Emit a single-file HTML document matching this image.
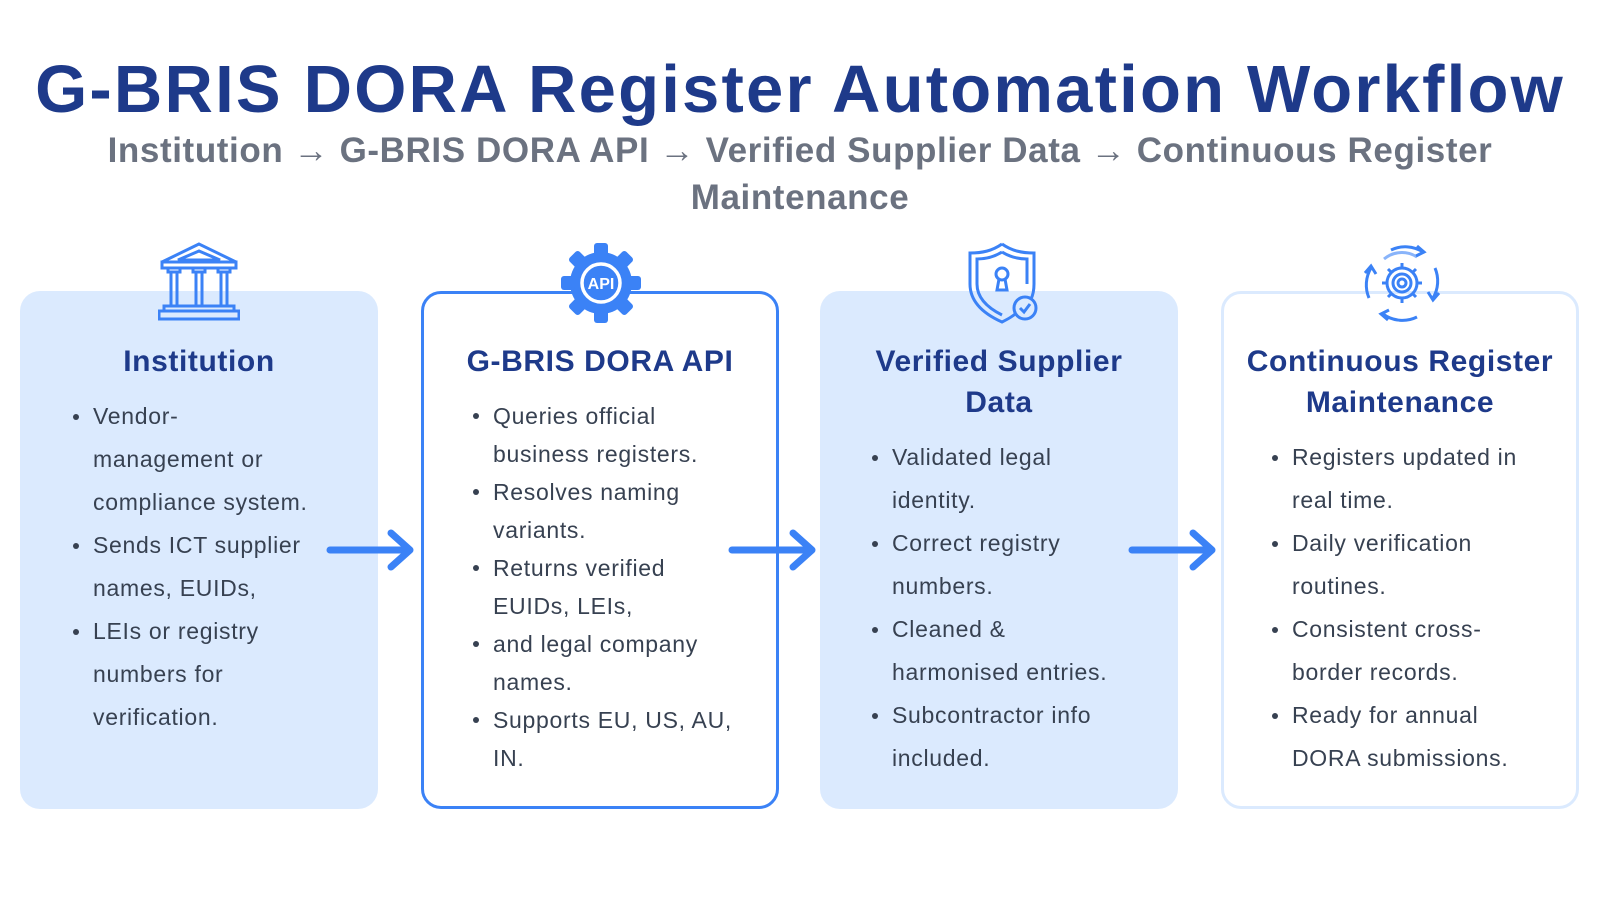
<!DOCTYPE html>
<html><head><meta charset="utf-8"><style>
body{margin:0;width:1600px;height:900px;background:#fff;position:relative;overflow:hidden;font-family:"Liberation Sans",sans-serif;}
.t{position:absolute;left:0;width:1600px;text-align:center;}
h1{position:absolute;left:0;top:50px;width:1600px;margin:0;text-align:center;font-size:67px;font-weight:bold;color:#1e3a8a;letter-spacing:2.2px;line-height:80px;}
.sub{top:127px;font-size:35px;font-weight:bold;color:#6b7280;line-height:47px;letter-spacing:0.6px;}
.box{position:absolute;top:291px;width:358px;height:518px;border-radius:20px;box-sizing:border-box;}
.f{background:#dbeafe;}
.o{background:#fff;border:3px solid #3b82f6;}
.o2{background:#fff;border:3px solid #dbeafe;}
.hd{position:absolute;width:358px;text-align:center;font-size:30px;font-weight:bold;color:#1e3a8a;line-height:41px;letter-spacing:0.6px;}
.ul{position:absolute;font-size:23px;color:#374151;letter-spacing:0.7px;}
.ul div{position:relative;white-space:nowrap;}
.ul .b::before{content:"";position:absolute;left:-20px;top:50%;width:6px;height:6px;margin-top:-3px;border-radius:50%;background:#374151;}
svg{position:absolute;}
</style></head><body>
<h1>G-BRIS DORA Register Automation Workflow</h1>
<div class="t sub">Institution → G-BRIS DORA API → Verified Supplier Data → Continuous Register<br>Maintenance</div>

<div class="box f" style="left:20px"></div>
<div class="box o" style="left:421px"></div>
<div class="box f" style="left:820px"></div>
<div class="box o2" style="left:1221px"></div>

<svg style="left:158px;top:242px" width="82" height="82" viewBox="0 0 82 82" fill="none" stroke="#3b82f6" stroke-width="3">
<path d="M41 2 L4 20 L78 20 Z"/><path d="M41 9 L20 18 L62 18Z"/><rect x="4" y="20" width="74" height="6"/>
<rect x="10" y="26" width="12" height="4"/><rect x="35" y="26" width="12" height="4"/><rect x="60" y="26" width="12" height="4"/>
<path d="M13 30 V64 M19 30 V64 M38 30 V64 M44 30 V64 M63 30 V64 M69 30 V64"/>
<rect x="6" y="64" width="70" height="5"/><rect x="1" y="69" width="80" height="8"/></svg>

<svg style="left:560px;top:242px" width="82" height="82" viewBox="0 0 82 82">
<g fill="#3b82f6"><circle cx="41" cy="41" r="31"/>
<rect x="34" y="1" width="14" height="14" rx="3"/>
<rect x="34" y="67" width="14" height="14" rx="3"/><rect x="1" y="34" width="14" height="14" rx="3"/><rect x="67" y="34" width="14" height="14" rx="3"/>
<g transform="rotate(45 41 41)"><rect x="34" y="1" width="14" height="14" rx="3"/><rect x="34" y="67" width="14" height="14" rx="3"/><rect x="1" y="34" width="14" height="14" rx="3"/><rect x="67" y="34" width="14" height="14" rx="3"/></g></g>
<circle cx="41" cy="41" r="19" fill="none" stroke="#fff" stroke-width="3.5"/>
<text x="41" y="47" text-anchor="middle" font-family="Liberation Sans" font-weight="bold" font-size="16" fill="#fff">API</text></svg>

<svg style="left:962px;top:242px" width="82" height="82" viewBox="0 0 82 82" fill="none" stroke="#3b82f6" stroke-width="3">
<path d="M40 2 C30 9 20 11 8 11 V42 C8 60 22 72 40 80 C46 77 50 75 53 72"/>
<path d="M40 2 C50 9 60 11 72 11 V42 C72 48 71 53 69 57"/>
<path d="M40 10 C32 15 24 17 15 17 V42 C15 56 26 66 40 73"/>
<path d="M40 10 C48 15 56 17 65 17 V42"/>
<circle cx="40" cy="32" r="6"/><path d="M37 37 L35 48 H45 L43 37"/>
<circle cx="63" cy="66" r="11" fill="#dbeafe"/><path d="M58 66 L62 70 L68 62"/></svg>

<svg style="left:1361px;top:242px" width="82" height="82" viewBox="0 0 82 82" fill="none" stroke="#3b82f6" stroke-width="3">
<path d="M30 8 A33 33 0 0 1 62 10"/><path d="M56 4 L63 10 L55 14"/>
<path d="M74 26 A33 33 0 0 1 72 56"/><path d="M78 51 L72 58 L67 50"/>
<path d="M56 75 A33 33 0 0 1 22 72"/><path d="M27 78 L20 72 L28 68"/>
<path d="M8 56 A33 33 0 0 1 10 26"/><path d="M4 31 L10 24 L15 32"/>
<path d="M23 17 A28 28 0 0 1 56 15" opacity=".6"/>
<g transform="translate(41 41)"><circle r="15"/><circle r="9"/><circle r="4"/>
<path d="M0 -15 V-20 M0 15 V20 M-15 0 H-20 M15 0 H20 M-11 -11 L-14 -14 M11 11 L14 14 M-11 11 L-14 14 M11 -11 L14 -14"/></g></svg>

<div class="hd" style="left:20px;top:341px">Institution</div>
<div class="hd" style="left:421px;top:341px">G-BRIS DORA API</div>
<div class="hd" style="left:820px;top:341px">Verified Supplier<br>Data</div>
<div class="hd" style="left:1221px;top:341px">Continuous Register<br>Maintenance</div>

<div class="ul" style="left:93px;top:395px;line-height:43px">
<div class="b">Vendor-</div><div>management or</div><div>compliance system.</div>
<div class="b">Sends ICT supplier</div><div>names, EUIDs,</div>
<div class="b">LEIs or registry</div><div>numbers for</div><div>verification.</div></div>

<div class="ul" style="left:493px;top:397px;line-height:38px">
<div class="b">Queries official</div><div>business registers.</div>
<div class="b">Resolves naming</div><div>variants.</div>
<div class="b">Returns verified</div><div>EUIDs, LEIs,</div>
<div class="b">and legal company</div><div>names.</div>
<div class="b">Supports EU, US, AU,</div><div>IN.</div></div>

<div class="ul" style="left:892px;top:436px;line-height:43px">
<div class="b">Validated legal</div><div>identity.</div>
<div class="b">Correct registry</div><div>numbers.</div>
<div class="b">Cleaned &amp;</div><div>harmonised entries.</div>
<div class="b">Subcontractor info</div><div>included.</div></div>

<div class="ul" style="left:1292px;top:436px;line-height:43px">
<div class="b">Registers updated in</div><div>real time.</div>
<div class="b">Daily verification</div><div>routines.</div>
<div class="b">Consistent cross-</div><div>border records.</div>
<div class="b">Ready for annual</div><div>DORA submissions.</div></div>

<svg style="left:0;top:0" width="1600" height="900" fill="none" stroke="#3b82f6" stroke-width="7" stroke-linecap="round" stroke-linejoin="round">
<path d="M330 550 H410 M391 533 L410 550 L391 567"/>
<path d="M732 550 H812 M793 533 L812 550 L793 567"/>
<path d="M1132 550 H1212 M1193 533 L1212 550 L1193 567"/>
</svg>
</body></html>
